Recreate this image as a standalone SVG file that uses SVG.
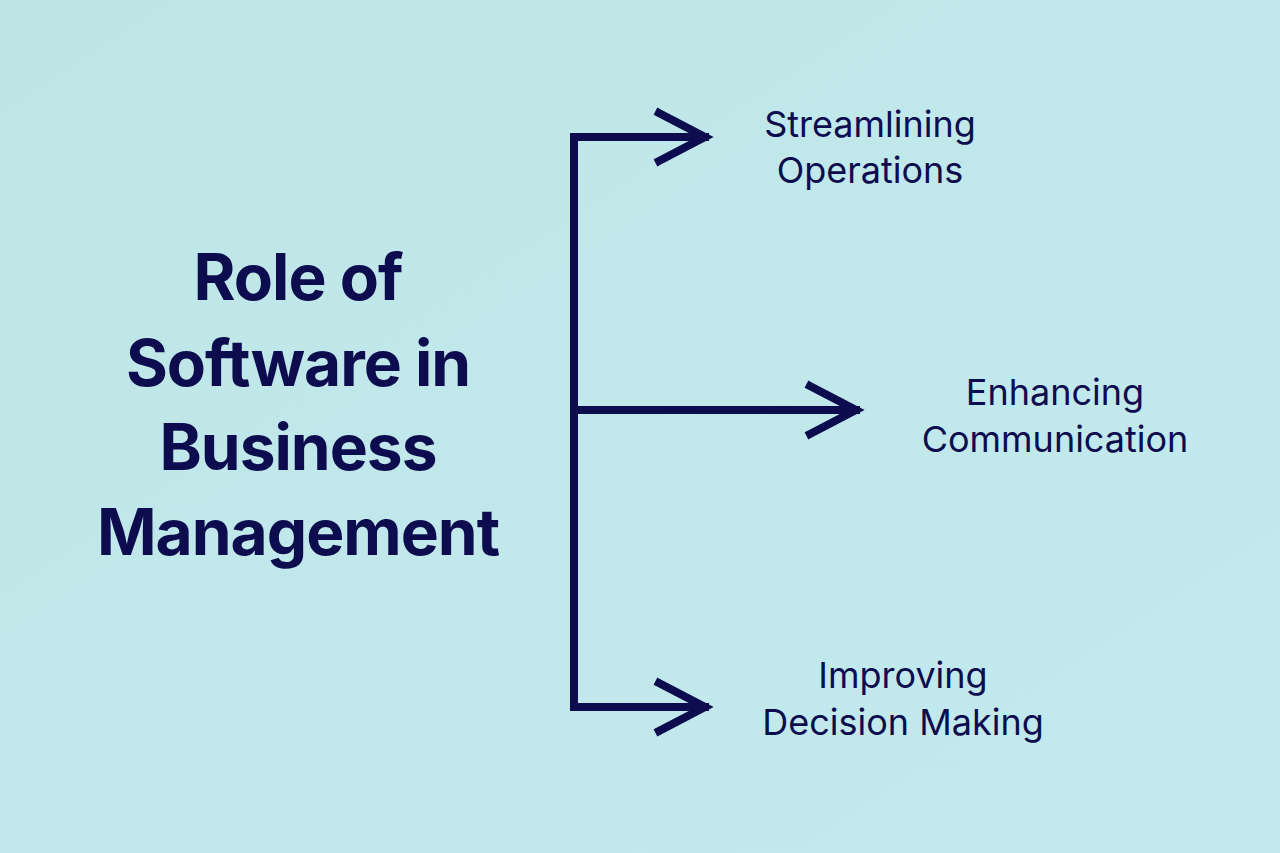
<svg xmlns="http://www.w3.org/2000/svg" width="1280" height="853" viewBox="0 0 1280 853">
<style>
.t{font-family:Inter,"Liberation Sans",sans-serif;fill:#0c0c4e;text-anchor:middle}
.title{font-size:64px;font-weight:700;letter-spacing:-1px}
.lab{font-size:36px;font-weight:400}
.ln{stroke:#0c0c4e;stroke-width:8;fill:none;stroke-linecap:square}
</style>
<defs><linearGradient id="bg" x1="0" y1="0" x2="1" y2="1"><stop offset="0" stop-color="#bfe6e6"/><stop offset="1" stop-color="#c2e9ee"/></linearGradient></defs>
<rect width="1280" height="853" fill="url(#bg)"/>
<g id="title"><text class="t title" x="298" y="300">Role of</text><text class="t title" x="298" y="386">Software in</text><text class="t title" x="298" y="470">Business</text><text class="t title" x="298" y="555">Management</text></g>
<g id="connectors">
<path class="ln" d="M705 137H574V707H705M574 410H856"/>
<path class="ln" stroke-linecap="round" d="M659 113L705 137L659 161M810 386L856 410L810 434M659 683L705 707L659 731"/>
</g>
<g id="n1"><text class="t lab" x="870" y="137">Streamlining</text><text class="t lab" x="870" y="183">Operations</text></g>
<g id="n2"><text class="t lab" x="1055" y="405">Enhancing</text><text class="t lab" x="1055" y="452">Communication</text></g>
<g id="n3"><text class="t lab" x="903" y="688">Improving</text><text class="t lab" x="903" y="735">Decision Making</text></g>
</svg>
